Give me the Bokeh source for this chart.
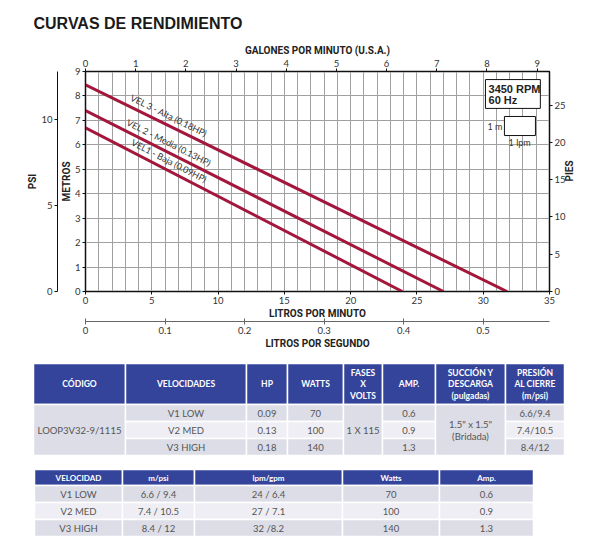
import math

import numpy as np
from bokeh.core.properties import value
from bokeh.embed import file_html
from bokeh.layouts import column
from bokeh.models import ColumnDataSource, FixedTicker, LinearAxis, Range1d
from bokeh.plotting import figure
from bokeh.resources import INLINE

# pump curves: litros por minuto vs metros
curve_names = ["VEL1 - Baja (0.09HP)", "VEL 2 - Media (0.13HP)", "VEL 3 - Alta (0.18HP)"]
flow_v1 = [0, 23.9]
head_v1 = [6.7, 0]
flow_v2 = [0, 27.0]
head_v2 = [7.4, 0]
flow_v3 = [0, 31.8]
head_v3 = [8.45, 0]

lpm_ticks = [0, 5, 10, 15, 20, 25, 30, 35]
m_ticks = [0, 1, 2, 3, 4, 5, 6, 7, 8, 9]
gpm_ticks = [0, 1, 2, 3, 4, 5, 6, 7, 8, 9]
ft_ticks = [0, 5, 10, 15, 20, 25]
psi_ticks = [0, 5, 10]
lps_ticks = [0, 0.1, 0.2, 0.3, 0.4, 0.5]
lps_labels = ["0", "0.1", "0.2", "0.3", "0.4", "0.5"]

# unit conversions for the secondary axes
LPM_PER_GPM = 3.78541
FT_PER_M = 3.28084
PSI_PER_M = 1.42233
LPM_PER_LPS = 60.0

# table 1
t1_headers = [["CÓDIGO"], ["VELOCIDADES"], ["HP"], ["WATTS"], ["FASES", "X", "VOLTS"],
              ["AMP."], ["SUCCIÓN Y", "DESCARGA", "(pulgadas)"], ["PRESIÓN", "AL CIERRE", "(m/psi)"]]
codigo = "LOOP3V32-9/1115"
velocidades = ["V1 LOW", "V2 MED", "V3 HIGH"]
hp = ["0.09", "0.13", "0.18"]
watts = ["70", "100", "140"]
fases = "1 X 115"
amp = ["0.6", "0.9", "1.3"]
succion = ["1.5\" x 1.5\"", "(Bridada)"]
presion = ["6.6/9.4", "7.4/10.5", "8.4/12"]

# table 2
t2_headers = ["VELOCIDAD", "m/psi", "lpm/gpm", "Watts", "Amp."]
m_psi = ["6.6 / 9.4", "7.4 / 10.5", "8.4 / 12"]
lpm_gpm = ["24 / 6.4", "27 / 7.1", "32 /8.2"]

W = 600
CH = 358
TH = 187
BL, BR, BT, BB = 85, 51, 71, 67

LINE_RED = "#a3173d"
HEAD_BLUE = "#34449b"
ROW_DARK = "#dcdde6"
ROW_LIGHT = "#eeeef4"
TXT = "#555555"

p = figure(width=W, height=CH, x_range=Range1d(0, 35), y_range=Range1d(0, 9),
           output_backend="svg", toolbar_location=None,
           min_border_left=BL, min_border_right=BR, min_border_top=BT, min_border_bottom=BB)
p.frame_align = False
p.background_fill_color = "white"
p.border_fill_color = "white"
p.outline_line_color = "#111111"
p.outline_line_width = 1.5

p.title.text = "CURVAS DE RENDIMIENTO"
p.title.text_font = "Liberation Sans"
p.title.text_font_style = "bold"
p.title.text_font_size = "16px"
p.title.text_color = "#1a1a1a"
p.title.align = "left"
p.title.offset = -52
p.title.standoff = 20

p.extra_x_ranges = {"gpm": Range1d(0, 35 / LPM_PER_GPM), "lps": Range1d(0, 35 / LPM_PER_LPS)}
p.extra_y_ranges = {"psi": Range1d(0, 9 * PSI_PER_M), "ft": Range1d(0, 9 * FT_PER_M)}

p.xgrid.ticker = FixedTicker(ticks=list(range(36)))
p.ygrid.ticker = FixedTicker(ticks=m_ticks)
p.grid.grid_line_color = "#a0a0a0"
p.grid.grid_line_width = 1


def style_axis(ax, label, ticks, line_color="#111111"):
    ax.ticker = FixedTicker(ticks=ticks)
    ax.axis_label = label
    ax.axis_label_text_font = "Roboto"
    ax.axis_label_text_font_style = "bold"
    ax.axis_label_text_font_size = "10px"
    ax.axis_label_text_color = "#222222"
    ax.axis_label_standoff = 1
    ax.major_label_text_font = "Lato"
    ax.major_label_text_font_size = "9.5px"
    ax.major_label_text_color = "#333333"
    ax.major_label_standoff = 2
    ax.major_tick_out = 3
    ax.major_tick_in = 0
    ax.minor_tick_out = 0
    ax.minor_tick_in = 0
    ax.axis_line_color = line_color
    ax.major_tick_line_color = line_color


style_axis(p.xaxis[0], "LITROS POR MINUTO", lpm_ticks)
style_axis(p.yaxis[0], "METROS", m_ticks)
p.yaxis[0].axis_label_standoff = 0

lps_axis = LinearAxis(x_range_name="lps")
style_axis(lps_axis, "LITROS POR SEGUNDO", lps_ticks, "#666666")
lps_axis.major_tick_in = 3
lps_axis.major_label_overrides = dict(zip(lps_ticks, lps_labels))
p.add_layout(lps_axis, "below")

psi_axis = LinearAxis(y_range_name="psi")
style_axis(psi_axis, "PSI", psi_ticks)
psi_axis.axis_label_standoff = 0
p.add_layout(psi_axis, "left")

gpm_axis = LinearAxis(x_range_name="gpm")
style_axis(gpm_axis, "GALONES POR MINUTO (U.S.A.)", gpm_ticks)
p.add_layout(gpm_axis, "above")

ft_axis = LinearAxis(y_range_name="ft")
style_axis(ft_axis, "PIES", ft_ticks)
ft_axis.axis_label_orientation = math.pi / 2
p.add_layout(ft_axis, "right")

# curves and their labels (label centred a little above each line)
px_lpm = (W - BL - BR) / 35
px_m = (CH - BT - BB) / 9
for name, flow, head in zip(curve_names, [flow_v1, flow_v2, flow_v3], [head_v1, head_v2, head_v3]):
    p.line(flow, head, line_color=LINE_RED, line_width=3)
    ang = -math.atan((head[0] / flow[1]) * px_m / px_lpm)
    lx = 6.3
    ly = float(np.interp(lx, flow, head)) + 0.42
    p.text(x=[lx], y=[ly], text=[name], angle=ang, text_align="center", text_baseline="middle",
           text_font=value("Lato"), text_font_size="9px", text_color="#333333")

# legend boxes in the corner
p.quad(left=[30.17], right=[34.31], bottom=[7.49], top=[8.67],
       fill_color="white", line_color="#111111", line_width=1)
p.text(x=[30.4, 30.4], y=[8.27, 7.85], text=["3450 RPM", "60 Hz"], text_baseline="middle",
       text_font=value("Liberation Sans"), text_font_style="bold", text_font_size="11px",
       text_color="#222222")
p.quad(left=[31.6], right=[33.94], bottom=[6.38], top=[7.16],
       fill_color="white", line_color="#111111", line_width=1)
p.text(x=[31.45], y=[6.77], text=["1 m"], text_align="right", text_baseline="middle",
       text_font=value("Lato"), text_font_size="9px", text_color="#333333")
p.text(x=[32.75], y=[6.34], text=["1 lpm"], text_align="center", text_baseline="top",
       text_font=value("Lato"), text_font_size="9px", text_color="#333333")

# tables, drawn on a page-pixel coordinate figure
top = CH
t = figure(width=W, height=TH, x_range=Range1d(0, W), y_range=Range1d(top + TH, top),
           output_backend="svg", toolbar_location=None, min_border=0,
           x_axis_location=None, y_axis_location=None)
t.frame_align = False
t.grid.visible = False
t.outline_line_color = None
t.background_fill_color = "white"
t.border_fill_color = "white"

cells = dict(left=[], right=[], top=[], bottom=[], color=[])
head_txt = dict(x=[], y=[], text=[], size=[])
body_txt = dict(x=[], y=[], text=[])


def cell(l, r, t0, b, c):
    cells["left"].append(l)
    cells["right"].append(r)
    cells["top"].append(t0)
    cells["bottom"].append(b)
    cells["color"].append(c)


cols1 = [33, 125, 246, 287, 343, 382, 435, 505, 564]
hdr1 = (363, 404)
rows1 = [404, 421, 438, 455]
per_row1 = {1: velocidades, 2: hp, 3: watts, 5: amp, 7: presion}
merged1 = {0: [codigo], 4: [fases], 6: succion}

for i in range(len(cols1) - 1):
    l, r = cols1[i], cols1[i + 1]
    cx = (l + r) / 2
    cell(l, r, hdr1[0], hdr1[1], HEAD_BLUE)
    lines = t1_headers[i]
    mid = (hdr1[0] + hdr1[1]) / 2
    for k, s in enumerate(lines):
        head_txt["x"].append(cx)
        head_txt["y"].append(mid + (k - (len(lines) - 1) / 2) * 11.5)
        head_txt["text"].append(s)
        head_txt["size"].append("8.5px")
    if i in merged1:
        cell(l, r, rows1[0], rows1[-1], ROW_DARK)
        mid = (rows1[0] + rows1[-1]) / 2
        vals = merged1[i]
        for k, s in enumerate(vals):
            body_txt["x"].append(cx)
            body_txt["y"].append(mid + (k - (len(vals) - 1) / 2) * 12)
            body_txt["text"].append(s)
    else:
        for j, s in enumerate(per_row1[i]):
            cell(l, r, rows1[j], rows1[j + 1], ROW_LIGHT if j == 1 else ROW_DARK)
            body_txt["x"].append(cx)
            body_txt["y"].append((rows1[j] + rows1[j + 1]) / 2)
            body_txt["text"].append(s)

cols2 = [34, 122, 194, 342, 439, 533]
hdr2 = (469, 485)
rows2 = [485, 502, 519, 536]
t2_cols = [velocidades, m_psi, lpm_gpm, watts, amp]
for i in range(len(cols2) - 1):
    l, r = cols2[i], cols2[i + 1]
    cx = (l + r) / 2
    cell(l, r, hdr2[0], hdr2[1], HEAD_BLUE)
    head_txt["x"].append(cx)
    head_txt["y"].append((hdr2[0] + hdr2[1]) / 2)
    head_txt["text"].append(t2_headers[i])
    head_txt["size"].append("8px")
    for j, s in enumerate(t2_cols[i]):
        cell(l, r, rows2[j], rows2[j + 1], ROW_LIGHT if j == 1 else ROW_DARK)
        body_txt["x"].append(cx)
        body_txt["y"].append((rows2[j] + rows2[j + 1]) / 2)
        body_txt["text"].append(s)

t.quad(left="left", right="right", top="top", bottom="bottom", fill_color="color",
       line_color="white", line_width=1.5, source=ColumnDataSource(cells))
t.text(x="x", y="y", text="text", text_font_size="size", source=ColumnDataSource(head_txt),
       text_align="center", text_baseline="middle", text_font=value("Lato"),
       text_font_style="bold", text_color="white")
t.text(x="x", y="y", text="text", source=ColumnDataSource(body_txt),
       text_align="center", text_baseline="middle", text_font=value("Lato"),
       text_font_size="9.5px", text_color=TXT)

layout = column(p, t)
open("out.html", "w").write(file_html(layout, INLINE))
